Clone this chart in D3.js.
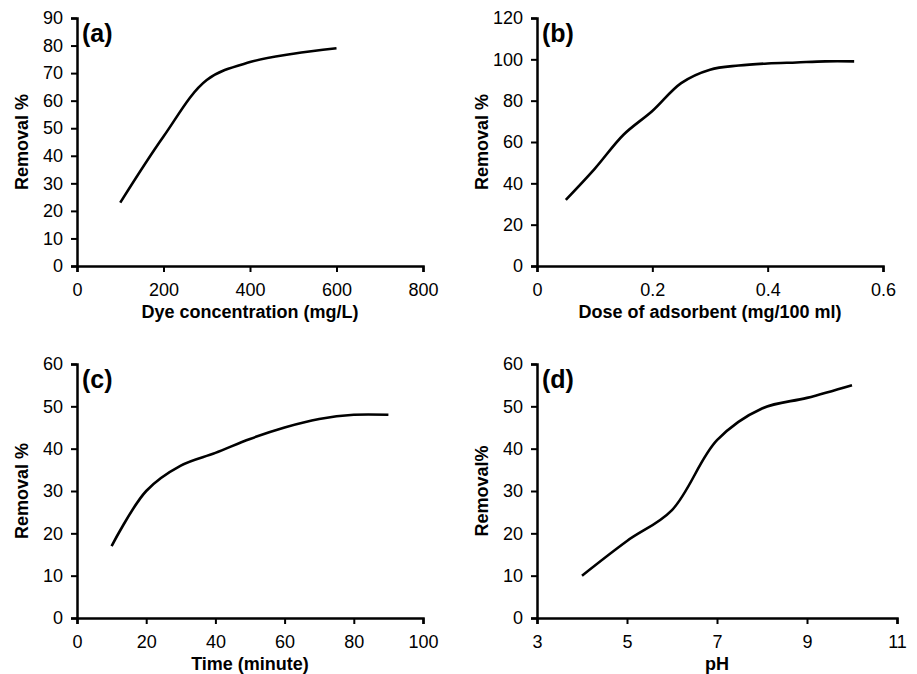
<!DOCTYPE html>
<html>
<head>
<meta charset="utf-8">
<script src="https://cdn.jsdelivr.net/npm/d3@7"></script>
<style>
  body { margin: 0; background: #fff; }
  text { font-family: "Liberation Sans", Arial, sans-serif; fill: #000; }
</style>
</head>
<body>
<div id="chart"></div>
<script>
// values
var dyeConc = [100, 200, 300, 400, 500, 600];
var dyeRemoval = [23, 47, 67.5, 74, 77, 79];

var dose = [0.05, 0.1, 0.15, 0.2, 0.25, 0.3, 0.35, 0.4, 0.45, 0.5, 0.55];
var doseRemoval = [32, 47, 63.5, 75, 88.5, 95, 97, 98, 98.5, 99, 99];

var time = [10, 20, 30, 40, 50, 60, 70, 80, 90];
var timeRemoval = [17, 30, 36, 39, 42.3, 45, 47, 48, 48];

var pH = [4, 5, 6, 7, 8, 9, 10];
var pHRemoval = [10, 18.2, 25.5, 42, 49.5, 52, 55];

var w = 917;
var h = 674;

var svg = d3.select("#chart")
  .append("svg")
  .attr("width", w)
  .attr("height", h);

var panels = [
  { tag: "(a)", xs: dyeConc, ys: dyeRemoval, xDom: [0, 800], xTicks: [0, 200, 400, 600, 800],
    yDom: [0, 90], yTicks: d3.range(0, 91, 10), xTitle: "Dye concentration (mg/L)", yTitle: "Removal %",
    left: 77, right: 423, top: 18, bottom: 266, fmt: d3.format("d") },
  { tag: "(b)", xs: dose, ys: doseRemoval, xDom: [0, 0.6], xTicks: [0, 0.2, 0.4, 0.6],
    yDom: [0, 120], yTicks: d3.range(0, 121, 20), xTitle: "Dose of adsorbent (mg/100 ml)", yTitle: "Removal %",
    left: 537, right: 883, top: 18, bottom: 266, fmt: function(d) { return d === 0 ? "0" : d3.format(".1f")(d); } },
  { tag: "(c)", xs: time, ys: timeRemoval, xDom: [0, 100], xTicks: d3.range(0, 101, 20),
    yDom: [0, 60], yTicks: d3.range(0, 61, 10), xTitle: "Time (minute)", yTitle: "Removal %",
    left: 77, right: 423, top: 364, bottom: 618, fmt: d3.format("d") },
  { tag: "(d)", xs: pH, ys: pHRemoval, xDom: [3, 11], xTicks: [3, 5, 7, 9, 11],
    yDom: [0, 60], yTicks: d3.range(0, 61, 10), xTitle: "pH", yTitle: "Removal%",
    left: 537, right: 897, top: 364, bottom: 618, fmt: d3.format("d") }
];

panels.forEach(function(p) {
  var x = d3.scaleLinear().domain(p.xDom).range([p.left, p.right]);
  var y = d3.scaleLinear().domain(p.yDom).range([p.bottom, p.top]);

  // x axis
  var gx = svg.append("g")
    .attr("transform", "translate(0," + p.bottom + ")")
    .call(d3.axisBottom(x).tickValues(p.xTicks).tickFormat(p.fmt).tickSizeOuter(0).tickSize(6).tickPadding(11));
  gx.select(".domain").attr("stroke-width", 2.5);
  gx.selectAll(".tick line").attr("stroke-width", 2);
  gx.selectAll("text").style("font-size", "18px");

  // y axis
  var gy = svg.append("g")
    .attr("transform", "translate(" + p.left + ",0)")
    .call(d3.axisLeft(y).tickValues(p.yTicks).tickFormat(d3.format("d")).tickSizeOuter(0).tickSize(6).tickPadding(8));
  gy.select(".domain").attr("stroke-width", 2.5);
  gy.selectAll(".tick line").attr("stroke-width", 2);
  gy.selectAll("text").style("font-size", "18px");

  // curve
  var pts = p.xs.map(function(d, i) { return [d, p.ys[i]]; });
  svg.append("path")
    .datum(pts)
    .attr("fill", "none")
    .attr("stroke", "#000")
    .attr("stroke-width", 2.6)
    .attr("d", d3.line()
      .x(function(d) { return x(d[0]); })
      .y(function(d) { return y(d[1]); })
      .curve(d3.curveCatmullRom.alpha(0.5)));

  // panel tag
  svg.append("text")
    .attr("x", p.left + 5)
    .attr("y", p.top + 24)
    .attr("font-weight", "bold")
    .style("font-size", "25px")
    .text(p.tag);

  // axis titles
  svg.append("text")
    .attr("x", (p.left + p.right) / 2)
    .attr("y", p.bottom + 52)
    .attr("text-anchor", "middle")
    .attr("font-weight", "bold")
    .style("font-size", "18px")
    .text(p.xTitle);

  svg.append("text")
    .attr("transform", "rotate(-90)")
    .attr("x", -(p.top + p.bottom) / 2)
    .attr("y", p.left - 49)
    .attr("text-anchor", "middle")
    .attr("font-weight", "bold")
    .style("font-size", "18px")
    .text(p.yTitle);
});
</script>
</body>
</html>
